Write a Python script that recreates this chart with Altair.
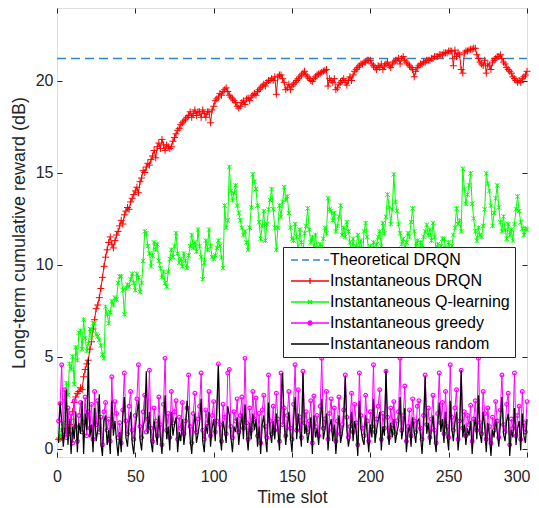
import altair as alt
import pandas as pd

# ---------------- data ----------------
t = list(range(1, 301))

drqn = [
    0.5, 0.55, 0.6, 0.7, 0.8, 1.0, 1.1, 1.3, 1.6, 2.0,
    2.5, 2.8, 3.0, 3.1, 3.3, 3.2, 3.9, 4.3, 4.6, 4.8,
    5.4, 5.8, 6.5, 7.0, 7.6, 7.8, 8.2, 8.7, 9.3, 9.9,
    10.4, 10.8, 11.2, 11.5, 11.1, 10.9, 11.3, 11.6, 11.8, 12.1,
    12.4, 12.2, 12.7, 12.9, 13.1, 13.0, 13.4, 13.6, 13.8, 14.0,
    14.2, 13.9, 14.5, 14.7, 15.1, 15.0, 15.3, 15.5, 15.4, 15.7,
    15.9, 16.2, 15.8, 16.4, 16.6, 16.3, 16.8, 16.5, 16.2, 16.5,
    16.4, 16.3, 16.4, 16.7, 16.9, 17.1, 17.3, 17.4, 17.6, 17.7,
    17.8, 17.9, 18.0, 18.1, 18.3, 18.0, 18.2, 18.4, 18.1, 18.3,
    18.3, 18.0, 18.4, 18.2, 18.0, 18.3, 18.3, 17.7, 18.4, 18.6,
    18.9, 19.0, 19.1, 19.3, 19.2, 19.4, 19.5, 19.6, 19.4, 19.2,
    19.1, 19.0, 18.9, 18.8, 18.6, 18.5, 18.6, 18.8, 18.9, 18.7,
    19.0, 19.05, 18.9, 19.1, 19.2, 19.3, 19.2, 19.4, 19.5, 19.6,
    19.7, 19.8, 19.7, 19.9, 20.0, 20.0, 20.1, 20.0, 20.2, 19.25,
    20.2, 20.3, 20.3, 20.1, 19.9, 19.5, 19.6, 19.8, 19.5, 19.7,
    19.8, 19.9, 20.0, 20.1, 20.2, 20.3, 20.4, 20.5, 20.3, 20.2,
    20.1, 20.0, 19.95, 20.1, 20.2, 20.3, 20.35, 20.4, 20.45, 20.5,
    20.55, 20.6, 19.7, 20.1, 20.0, 19.9, 20.1, 19.5, 19.6, 19.8,
    19.9, 20.0, 20.1, 19.9, 19.75, 20.0, 20.2, 20.0, 20.3, 20.5,
    20.6, 20.7, 20.8, 20.9, 20.9, 21.0, 21.0, 21.1, 21.1, 21.1,
    20.9, 20.8, 20.7, 20.6, 20.8, 20.7, 20.9, 20.6, 20.8, 20.9,
    21.0, 20.8, 20.7, 20.9, 21.0, 21.1, 21.1, 21.2, 20.9, 21.2,
    21.3, 21.1, 21.0, 20.9, 20.8, 20.7, 20.6, 20.2, 20.5, 20.7,
    20.8, 20.9, 20.9, 21.0, 21.0, 21.1, 21.1, 21.1, 21.2, 21.2,
    21.3, 21.3, 21.3, 21.4, 21.4, 21.4, 21.5, 21.5, 21.5, 21.6,
    21.6, 21.6, 20.8, 21.65, 21.3, 21.5, 21.4, 20.6, 20.4, 21.5,
    21.6, 21.6, 21.65, 21.7, 21.7, 21.75, 21.75, 21.4, 21.2, 21.0,
    20.9, 20.8, 21.1, 20.4, 20.9, 20.8, 20.6, 21.0, 21.1, 21.2,
    21.3, 21.3, 21.4, 21.2, 21.0, 20.9, 20.7, 20.6, 20.5, 20.4,
    20.2, 20.1, 20.0, 19.9, 20.0, 19.9, 20.1, 20.2, 20.3, 20.5,
]

qlearn = [
    0.5, 0.7, 1.0, 1.4, 2.6, 3.55, 2.9, 4.6, 4.3, 5.0,
    3.5, 5.5, 4.8, 6.3, 6.4, 5.4, 7.0, 6.0, 5.3, 5.7,
    6.5, 6.0, 6.8, 6.8, 6.2, 6.1, 5.9, 5.6, 5.1, 4.9,
    7.7, 7.3, 6.8, 7.4, 8.0, 7.8, 8.2, 8.1, 9.0, 9.35,
    9.35, 8.6, 7.3, 8.7, 8.9, 8.8, 9.2, 9.5, 9.0, 8.6,
    9.5, 9.3, 8.5, 9.0, 10.2, 11.8, 11.7, 11.0, 10.6, 9.9,
    10.5, 11.2, 10.8, 11.1, 10.2, 9.8, 9.3, 9.6, 9.0, 8.8,
    9.6, 10.3, 10.8, 10.4, 11.0, 11.7, 10.6, 10.1, 10.3, 9.9,
    10.6, 10.2, 9.8, 10.5, 11.0, 11.6, 10.9, 11.2, 10.7, 11.9,
    11.0, 10.4, 9.2, 10.1, 11.3, 10.8, 11.9, 11.0, 10.4, 10.3,
    10.5, 10.9, 11.3, 11.0, 10.4, 9.8, 13.2, 12.0, 12.4, 15.3,
    14.0, 13.5, 13.9, 14.3, 13.2, 12.8, 12.4, 12.0, 11.6, 11.8,
    11.2, 10.8, 12.0, 13.1, 14.9, 14.5, 14.1, 13.2, 12.3, 11.4,
    12.1, 12.9, 11.3, 12.2, 13.0, 13.5, 14.1, 13.0, 12.0, 10.8,
    12.0, 13.2, 12.6, 13.4, 14.2, 13.5, 13.7, 12.8, 12.0, 11.4,
    11.3, 12.2, 11.5, 10.6, 11.9, 11.2, 10.5, 11.7, 12.1, 13.05,
    11.9, 11.2, 11.5, 10.8, 11.6, 10.9, 10.3, 11.1, 10.6, 11.4,
    12.0, 11.7, 13.6, 13.0, 12.9, 12.4, 12.8, 11.8, 12.1, 12.6,
    13.2, 11.6, 12.0, 11.5, 12.3, 11.8, 11.2, 10.7, 11.4, 10.5,
    11.0, 11.6, 10.9, 11.3, 10.4, 11.8, 12.25, 11.5, 10.6, 11.0,
    10.3, 11.2, 10.7, 11.1, 11.5, 11.8, 11.0, 12.25, 11.7, 12.6,
    13.8, 13.1, 12.2, 13.0, 14.9, 13.4, 12.9, 12.2, 11.7, 11.1,
    11.4, 10.8, 11.2, 11.7, 11.5, 12.3, 13.05, 11.8, 11.0, 11.3,
    10.6, 11.2, 10.9, 11.5, 11.8, 12.15, 11.6, 11.9, 11.3, 12.25,
    11.5, 10.8, 11.1, 10.5, 11.0, 11.4, 11.4, 10.9, 10.4, 11.2,
    10.7, 11.0, 11.6, 12.0, 13.05, 12.2, 12.4, 11.8, 15.2, 14.1,
    13.3, 13.8, 14.3, 14.95, 13.3, 12.5, 11.8, 11.3, 12.0, 11.6,
    11.5, 12.1, 13.0, 14.95, 14.4, 14.0, 13.2, 12.1, 12.8, 13.6,
    14.3, 13.1, 12.3, 11.8, 12.6, 11.9, 11.4, 12.2, 11.6, 11.9,
    11.3, 12.2, 13.0, 13.7, 12.9, 12.3, 11.95, 11.6, 11.95, 11.9,
]

greedy = [
    1.5, 2.45, 4.55, 1.0, 3.2, 0.6, 2.2, 0.8, 1.9, 0.3,
    2.6, 1.2, 0.4, 1.8, 2.5, 0.9, 1.4, 2.8, 0.7, 2.0,
    1.1, 2.4, 0.5, 3.1, 1.3, 2.6, 0.9, 1.7, 0.2, 2.0,
    2.5, 1.0, 1.6, 0.4, 3.9, 1.2, 2.55, 1.9, 0.6, 1.4,
    0.3, 2.1, 4.1, 1.5, 0.8, 2.3, 3.1, 1.0, 0.5, 1.8,
    2.7, 4.55, 1.2, 0.6, 2.0, 2.9, 0.9, 1.6, 4.25, 1.1,
    0.4, 2.2, 1.5, 0.7, 2.8, 1.3, 0.2, 2.4, 4.9, 1.0,
    1.9, 0.6, 3.1, 1.4, 2.0, 2.6, 0.5, 1.7, 1.1, 2.5,
    0.8, 1.5, 2.2, 4.0, 1.2, 0.3, 1.9, 3.0, 0.9, 1.6,
    2.3, 4.1, 1.0, 0.5, 2.1, 1.4, 3.1, 0.7, 1.8, 2.55,
    0.9, 1.5, 4.6, 1.3, 0.4, 2.4, 1.7, 0.8, 4.1, 4.3,
    1.2, 0.6, 2.0, 1.5, 2.7, 0.9, 1.8, 2.8, 1.1, 4.9,
    1.4, 0.5, 2.2, 1.0, 3.1, 1.6, 2.75, 0.7, 1.9, 0.3,
    2.1, 2.9, 1.2, 0.6, 4.0, 1.5, 0.8, 2.3, 1.0, 3.0,
    1.6, 0.4, 4.1, 1.3, 2.2, 0.7, 1.8, 3.1, 1.1, 0.5,
    2.4, 4.55, 1.0, 3.2, 1.7, 0.6, 4.2, 1.4, 2.0, 0.9,
    1.5, 2.6, 0.3, 2.85, 1.2, 1.8, 0.7, 2.3, 4.9, 1.1,
    1.6, 3.1, 0.5, 1.9, 2.7, 1.0, 2.2, 0.4, 1.5, 2.8,
    0.8, 1.3, 2.1, 4.0, 1.7, 0.6, 1.2, 3.0, 0.9, 2.4,
    1.4, 0.2, 4.1, 1.8, 1.1, 0.7, 2.9, 1.5, 0.4, 2.0,
    1.2, 4.55, 0.9, 1.6, 2.3, 3.2, 0.5, 1.9, 1.1, 4.2,
    1.7, 0.6, 2.2, 1.3, 2.55, 0.8, 1.5, 2.0, 4.9, 1.0,
    1.8, 3.4, 0.4, 1.2, 2.1, 0.7, 2.7, 1.5, 0.9, 2.3,
    2.6, 1.1, 0.5, 1.8, 4.0, 1.3, 2.2, 0.6, 1.6, 2.9,
    1.0, 0.3, 1.9, 4.1, 1.4, 2.5, 0.8, 3.1, 1.2, 0.6,
    4.55, 1.7, 1.0, 2.2, 3.2, 0.5, 1.5, 4.25, 1.1, 2.0,
    0.7, 1.8, 1.3, 2.35, 0.4, 1.6, 2.6, 1.0, 4.9, 1.4,
    0.8, 3.1, 1.9, 0.5, 2.2, 1.2, 0.3, 1.7, 1.0, 2.55,
    1.5, 0.6, 2.1, 4.0, 1.3, 0.9, 2.4, 3.0, 0.2, 1.6,
    1.1, 4.1, 0.7, 1.8, 2.3, 0.5, 3.1, 1.4, 0.9, 2.55,
]

rand = [
    0.3, 2.5, 1.5, 0.1, 1.0, 3.2, 0.2, 1.6, -0.3, 1.2,
    0.5, 2.0, -0.2, 1.4, 0.8, 2.6, -0.3, 1.9, 1.0, 4.9,
    0.6, 1.3, -0.2, 2.2, 0.4, 1.0, 2.95, 0.3, -0.4, 1.5,
    1.8, 0.2, 1.0, -0.3, 2.6, 0.7, 1.5, 0.4, -0.4, 0.9,
    -0.2, 1.7, 2.8, 0.6, 0.1, 1.4, 2.0, 0.3, -0.3, 1.1,
    1.9, 2.6, 0.5, -0.1, 1.2, 1.6, 4.2, 0.8, 2.0, 0.4,
    -0.2, 1.5, 0.9, 0.2, 1.8, 0.6, -0.3, 1.3, 2.9, 0.5,
    1.2, -0.1, 2.0, 0.7, 1.3, 1.7, -0.2, 0.9, 0.4, 1.6,
    0.2, 1.0, 2.6, 1.8, 0.5, -0.3, 1.1, 1.9, 0.3, 0.8,
    1.4, 2.7, 0.4, -0.2, 1.3, 0.8, 2.0, 0.1, 1.1, 1.6,
    0.4, 2.2, 4.5, 0.7, -0.1, 1.5, 1.0, 0.3, 2.3, 1.8,
    0.6, -0.2, 1.2, 0.9, 1.7, 0.2, 1.1, 1.9, 0.5, 2.4,
    0.8, -0.1, 1.4, 0.5, 1.9, 1.0, 1.6, 0.1, 1.2, -0.3,
    1.3, 1.8, 0.6, -0.2, 2.5, 0.9, 0.3, 1.5, 0.5, 1.9,
    1.0, -0.1, 2.2, 4.1, 1.4, 0.2, 1.1, 2.0, 0.6, -0.2,
    1.5, 2.8, 0.5, 1.9, 1.0, 0.1, 4.1, 0.8, 1.3, 0.3,
    0.9, 1.7, -0.3, 1.8, 0.6, 1.1, 0.2, 1.4, 2.7, 0.5,
    1.0, 1.9, -0.1, 1.2, 1.6, 0.4, 1.3, -0.3, 0.9, 1.8,
    0.3, 0.8, 1.4, 3.9, 1.0, 0.1, 0.7, 2.0, 0.4, 1.5,
    0.9, -0.4, 2.6, 1.1, 0.5, 0.2, 1.8, 0.8, -0.2, 1.3,
    0.6, 2.7, 0.3, 1.0, 1.5, 2.0, -0.1, 1.2, 0.7, 4.25,
    1.0, 0.2, 1.4, 0.6, 1.6, 0.3, 0.9, 1.3, 2.8, 0.5,
    1.1, 2.2, -0.2, 0.8, 1.3, 0.1, 1.7, 0.9, 0.3, 1.5,
    1.6, 0.7, -0.3, 1.1, 3.9, 0.8, 1.4, 0.2, 1.0, 1.8,
    0.5, -0.2, 1.2, 2.5, 0.9, 1.6, 0.3, 2.0, 0.7, -0.1,
    2.6, 1.1, 0.4, 1.4, 2.0, -0.1, 0.9, 4.25, 0.6, 1.3,
    0.2, 1.1, 0.7, 1.5, -0.3, 1.0, 1.7, 0.5, 2.9, 0.8,
    0.3, 2.0, 1.2, -0.2, 1.4, 0.7, -0.4, 1.0, 0.6, 1.6,
    0.9, 0.1, 1.3, 2.8, 0.8, 0.4, 1.5, 1.9, -0.4, 1.0,
    0.6, 2.2, 0.2, 1.1, 1.5, -0.1, 1.9, 0.7, 0.3, 1.6,
]

theo_t = [0, 300]
theo_v = [21.2, 21.2]

names = ["Theoretical DRQN", "Instantaneous DRQN", "Instantaneous Q-learning",
         "Instantaneous greedy", "Instantaneous random"]
colors = ["#2f86c9", "#ff0000", "#00ff00", "#ff00ff", "#000000"]
x_ticks = [0, 50, 100, 150, 200, 250, 300]
y_ticks = [0, 5, 10, 15, 20]

# ---------------- table ----------------
rows = [(a, b, names[0]) for a, b in zip(theo_t, theo_v)]
for nm, vals in zip(names[1:], [drqn, qlearn, greedy, rand]):
    rows += [(a, b, nm) for a, b in zip(t, vals)]
df = pd.DataFrame(rows, columns=["t", "v", "s"])

FONT = "Liberation Sans"
INK = "#262626"
xs = alt.Scale(domain=[0, 300], nice=False, zero=False)
ys = alt.Scale(domain=[-0.46, 23.94], nice=False, zero=False)

base = alt.Chart(df)


def sel(name):
    return base.transform_filter(alt.datum.s == name)


def X(axis=None):
    return alt.X("t:Q", scale=xs, axis=axis)


def Y(axis=None):
    return alt.Y("v:Q", scale=ys, axis=axis)


last_x = "datum.value >= 300"
label_x = alt.Axis(orient="bottom", values=x_ticks, ticks=False, domain=False, grid=False,
                   labelFlush=False, labelOverlap=False,
                   labelAlign={"condition": {"test": last_x, "value": "right"}, "value": "center"},
                   labelOffset={"condition": {"test": last_x, "value": 3}, "value": 0},
                   labelFontSize=16, labelColor=INK, labelFont=FONT, labelPadding=11,
                   title="Time slot", titleFontSize=17.5, titleFontWeight="normal",
                   titleColor=INK, titleFont=FONT, titlePadding=4)
label_y = alt.Axis(orient="left", values=y_ticks, ticks=False, domain=False, grid=False,
                   labelFlush=False, labelOverlap=False,
                   labelFontSize=16, labelColor=INK, labelFont=FONT, labelPadding=4,
                   title="Long-term cumulative reward (dB)", titleFontSize=18,
                   titleFontWeight="normal", titleColor=INK, titleFont=FONT, titlePadding=7)


def tick_axis(orient, vals):
    return alt.Axis(orient=orient, values=vals, labels=False, domain=False, grid=False,
                    ticks=True, tickSize=5, tickColor=INK, tickWidth=1, offset=-5,
                    title=None)


layers = [
    sel(names[0]).mark_line(color=colors[0], strokeWidth=1.5, strokeDash=[9, 5]).encode(
        x=X(label_x), y=Y(label_y)),
    sel(names[1]).mark_line(color=colors[1], strokeWidth=1).encode(
        x=X(tick_axis("bottom", x_ticks)), y=Y(tick_axis("left", y_ticks))),
    sel(names[1]).mark_point(shape="M-1,0H1M0,-1V1", size=49, color=colors[1],
                             filled=False, strokeWidth=1, opacity=1).encode(x=X(), y=Y()),
    sel(names[2]).mark_line(color=colors[2], strokeWidth=1).encode(
        x=X(tick_axis("top", x_ticks)), y=Y(tick_axis("right", y_ticks))),
    sel(names[2]).mark_point(shape="M-1,-1L1,1M-1,1L1,-1M0,-1V1", size=20, color=colors[2],
                             filled=False, strokeWidth=1, opacity=1).encode(x=X(), y=Y()),
    sel(names[3]).mark_line(color=colors[3], strokeWidth=1).encode(x=X(), y=Y()),
    sel(names[3]).mark_point(shape="circle", size=14, color=colors[3],
                             filled=False, strokeWidth=1.2, opacity=1).encode(x=X(), y=Y()),
    sel(names[4]).mark_line(color=colors[4], strokeWidth=1.2).encode(x=X(), y=Y()),
]

legend_shapes = [
    "M-3.8,0H3.8",
    "M-3.8,0H3.8M0,-0.6V0.6",
    "M-3.8,0H3.8M-0.4,-0.4L0.4,0.4M-0.4,0.4L0.4,-0.4",
    "M-3.8,0H3.8M0.4,0A0.4,0.4,0,1,1,-0.4,0A0.4,0.4,0,1,1,0.4,0M0.2,0A0.2,0.2,0,1,1,-0.2,0A0.2,0.2,0,1,1,0.2,0",
    "M-3.8,0H3.8",
]
dashes = [[7, 4], [1, 0], [1, 0], [1, 0], [1, 0]]

leg = alt.Legend(title=None, orient="none", legendX=226, legendY=239,
                 symbolSize=100, symbolStrokeWidth=1.3, symbolOffset=14,
                 labelOffset=12, labelFontSize=16, labelFont=FONT, labelColor="#000000",
                 labelLimit=400, padding=5, rowPadding=5, strokeColor=INK,
                 fillColor="#ffffff", cornerRadius=0)

legend_layer = base.transform_filter("datum.t < 0").mark_point(filled=False, opacity=1).encode(
    x=X(), y=Y(),
    color=alt.Color("s:N", scale=alt.Scale(domain=names, range=colors), legend=leg),
    shape=alt.Shape("s:N", scale=alt.Scale(domain=names, range=legend_shapes), legend=leg),
    strokeDash=alt.StrokeDash("s:N", scale=alt.Scale(domain=names, range=dashes), legend=leg),
)
layers.append(legend_layer)

chart = alt.layer(*layers).resolve_axis(x="independent", y="independent").properties(
    width=470, height=449,
    padding={"left": 49, "top": 0, "right": 4, "bottom": 50},
    autosize=alt.AutoSizeParams(type="none"),
).configure_view(stroke=INK, strokeWidth=1).configure(font=FONT)

chart.save("out.html", embed_options={"renderer": "svg", "actions": False})
